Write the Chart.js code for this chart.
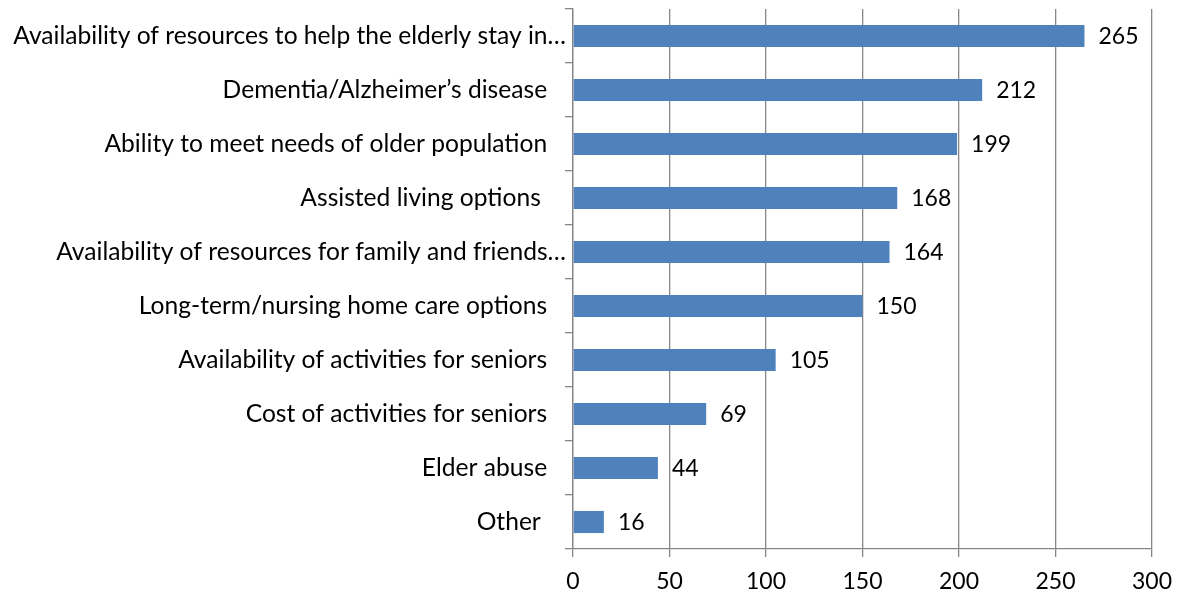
<!DOCTYPE html>
<html>
<head>
<meta charset="utf-8">
<script src="https://cdn.jsdelivr.net/npm/chart.js@4"></script>
<style>
  html, body { margin: 0; padding: 0; background: #fff; }
  #wrap { width: 1181px; height: 597px; position: relative; }
</style>
</head>
<body>
<div id="wrap"><canvas id="chart"></canvas></div>
<script>
// categories top to bottom, with counts
const categories = [
    'Availability of resources to help the elderly stay in…',
    'Dementia/Alzheimer’s disease   ',
    'Ability to meet needs of older population   ',
    'Assisted living options    ',
    'Availability of resources for family and friends…',
    'Long-term/nursing home care options   ',
    'Availability of activities for seniors   ',
    'Cost of activities for seniors   ',
    'Elder abuse   ',
    'Other    '
];
const counts = [265, 212, 199, 168, 164, 150, 105, 69, 44, 16];
const xTicks = [0, 50, 100, 150, 200, 250, 300];

const FONT = 'Lato, "Open Sans", sans-serif';
const AXIS_GRAY = '#868686';

// writes the value just past the end of each bar
const valueLabels = {
    id: 'valueLabels',
    afterDatasetsDraw(chart) {
        const ctx = chart.ctx;
        const meta = chart.getDatasetMeta(0);
        ctx.save();
        ctx.font = '23px ' + FONT;
        ctx.fillStyle = '#000';
        ctx.textAlign = 'left';
        ctx.textBaseline = 'middle';
        meta.data.forEach((bar, i) => {
            ctx.fillText(String(counts[i]), bar.x + 14, bar.y + 1);
        });
        ctx.restore();
    }
};

new Chart(document.getElementById('chart'), {
    type: 'bar',
    data: {
        labels: categories,
        datasets: [{
            data: counts,
            backgroundColor: '#4F81BD',
            borderWidth: 0,
            categoryPercentage: 1,
            barPercentage: 0.41
        }]
    },
    options: {
        indexAxis: 'y',
        responsive: true,
        maintainAspectRatio: false,
        animation: false,
        layout: { padding: { top: 9, right: 29, left: 0, bottom: 0 } },
        plugins: { legend: { display: false }, tooltip: { enabled: false } },
        scales: {
            x: {
                min: 0, max: 300,
                afterBuildTicks: (axis) => { axis.ticks = xTicks.map(v => ({ value: v })); },
                grid: { color: AXIS_GRAY, lineWidth: 1.3, tickLength: 8, tickColor: AXIS_GRAY },
                border: { color: AXIS_GRAY, width: 1.3 },
                ticks: { color: '#000', font: { family: FONT, size: 23 }, padding: 11 },
                afterFit: (axis) => { axis.height = 48; axis.paddingLeft = 0; axis.paddingRight = 0; }
            },
            y: {
                grid: { drawOnChartArea: false, offset: true, tickLength: 8, tickColor: AXIS_GRAY, lineWidth: 1.3 },
                border: { color: AXIS_GRAY, width: 1.3 },
                ticks: { color: '#000', font: { family: FONT, size: 24.6 }, padding: -1, autoSkip: false },
                afterFit: (axis) => { axis.width = 573; axis.paddingTop = 0; axis.paddingBottom = 0; }
            }
        }
    },
    plugins: [valueLabels]
});
</script>
</body>
</html>
